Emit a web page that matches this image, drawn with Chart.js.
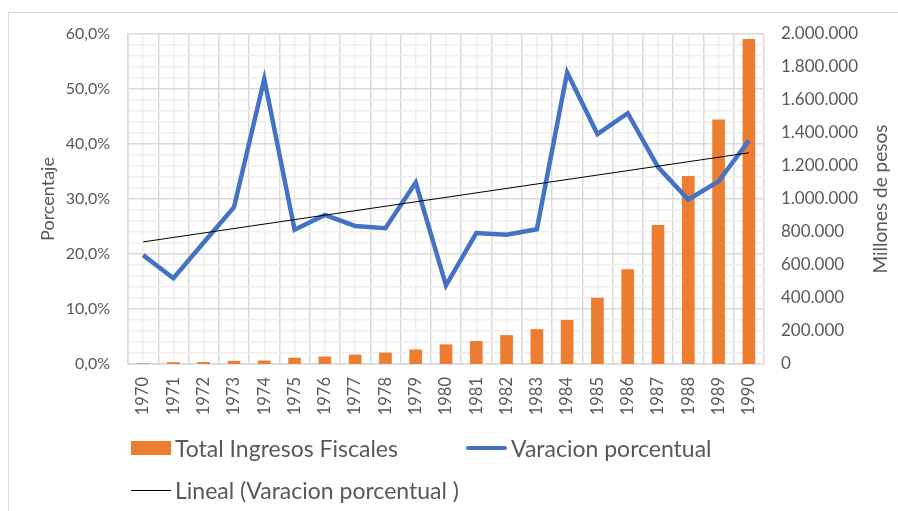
<!DOCTYPE html>
<html>
<head>
<meta charset="utf-8">
<script src="https://cdn.jsdelivr.net/npm/chart.js@4.4.1/dist/chart.umd.min.js"></script>
<style>
  body { margin: 0; background: #fff; font-family: Lato, sans-serif; }
  #wrap { position: relative; width: 898px; height: 511px; overflow: hidden; }
  #frame { position: absolute; left: 8px; top: 12px; width: 1000px; height: 1000px;
           border: 1px solid #d9d9d9; box-sizing: border-box; }
  #chart { position: absolute; left: 0; top: 0; }
  .leg { position: absolute; font-size: 23px; color: #595959; white-space: nowrap; line-height: 26px; }
  .sw { position: absolute; }
</style>
</head>
<body>
<div id="wrap">
  <div id="frame"></div>
  <canvas id="chart" width="898" height="511"></canvas>
  <div id="legend"></div>
</div>
<script>
const years = ["1970", "1971", "1972", "1973", "1974", "1975", "1976", "1977", "1978", "1979",
  "1980", "1981", "1982", "1983", "1984", "1985", "1986", "1987", "1988", "1989", "1990"];

// Total Ingresos Fiscales (millones de pesos), right axis
const ingresos = [1500, 9000, 10000, 17000, 19000, 36000, 43000, 55000, 67000, 86000,
  117000, 137000, 173000, 209000, 265000, 399000, 572000, 840000, 1137000, 1480000, 1967000];

// Varacion porcentual (%), left axis
const variacion = [19.8, 15.6, 22.1, 28.5, 51.8, 24.4, 27.1, 25.1, 24.7, 33.0,
  14.3, 23.8, 23.5, 24.5, 53.0, 41.8, 45.6, 35.8, 29.9, 33.2, 40.6];

// trend line endpoints (1970 and 1990)
const tendencia = [22.2, null, null, null, null, null, null, null, null, null,
  null, null, null, null, null, null, null, null, null, null, 38.4];

const leftTicks = [0, 10, 20, 30, 40, 50, 60];
const rightTicks = [0, 200000, 400000, 600000, 800000, 1000000, 1200000, 1400000, 1600000, 1800000, 2000000];

const names = ["Total Ingresos Fiscales", "Varacion porcentual", "Lineal (Varacion porcentual )"];
const leftTitle = "Porcentaje";
const rightTitle = "Millones de pesos";

const textColor = "#595959";
const orange = "#ED7D31";
const blue = "#4472C4";

function fmtPct(v) {
  return v.toFixed(1).replace(".", ",") + "%";
}
function fmtMiles(v) {
  return String(v).replace(/\B(?=(\d{3})+(?!\d))/g, ".");
}

// draws the two axis titles, both reading bottom to top
const axisTitles = {
  id: "axisTitles",
  afterDraw(chart) {
    const ctx = chart.ctx;
    const a = chart.chartArea;
    const midY = (a.top + a.bottom) / 2;
    ctx.save();
    ctx.fillStyle = textColor;
    ctx.textAlign = "center";
    ctx.textBaseline = "middle";
    [[48, leftTitle, 18], [881, rightTitle, 19]].forEach(function (t) {
      ctx.save();
      ctx.font = t[2] + "px Lato";
      ctx.translate(t[0], midY);
      ctx.rotate(-Math.PI / 2);
      ctx.fillText(t[1], 0, 0);
      ctx.restore();
    });
    ctx.restore();
  }
};

const ctx = document.getElementById("chart").getContext("2d");
const chart = new Chart(ctx, {
  type: "bar",
  data: {
    labels: years,
    datasets: [
      {
        type: "line",
        label: names[2],
        data: tendencia,
        yAxisID: "y",
        borderColor: "#000000",
        borderWidth: 1,
        pointRadius: 0,
        spanGaps: true,
        order: 0
      },
      {
        type: "line",
        label: names[1],
        data: variacion,
        yAxisID: "y",
        borderColor: blue,
        borderWidth: 4.5,
        pointRadius: 0,
        tension: 0,
        borderJoinStyle: "miter",
        order: 1
      },
      {
        label: names[0],
        data: ingresos,
        yAxisID: "y2",
        backgroundColor: orange,
        barThickness: 12,
        order: 2
      }
    ]
  },
  options: {
    responsive: false,
    animation: false,
    devicePixelRatio: 1,
    layout: { padding: { left: 0, right: 0, top: 34, bottom: 97 } },
    plugins: {
      legend: { display: false },
      tooltip: { enabled: false }
    },
    scales: {
      x: {
        position: "bottom",
        grid: { offset: true, color: "#d9d9d9", lineWidth: 1.5, drawTicks: false },
        border: { color: "#d9d9d9", width: 1.5 },
        ticks: { color: textColor, font: { family: "Lato", size: 16.5 }, minRotation: 90, maxRotation: 90, padding: 13, autoSkip: false },
        afterFit(s) { s.height = 50; }
      },
      x2: {
        type: "category",
        position: "top",
        offset: true,
        grid: { offset: false, color: "#efefef", lineWidth: 1.5, drawTicks: false, z: -1 },
        border: { display: false },
        ticks: { display: false },
        afterFit(s) { s.height = 0; }
      },
      y: {
        position: "left",
        min: 0,
        max: 60,
        ticks: {
          stepSize: 2,
          autoSkip: false,
          color: textColor,
          font: { family: "Lato", size: 16 },
          padding: 18,
          callback: function (v) { return leftTicks.includes(v) ? fmtPct(v) : ""; }
        },
        grid: {
          drawTicks: false,
          lineWidth: 1.5,
          color: function (c) { return leftTicks.includes(c.tick.value) ? "#d9d9d9" : "#efefef"; }
        },
        border: { color: "#d9d9d9", width: 1.5 },
        afterFit(s) { s.width = 128; }
      },
      y2: {
        position: "right",
        min: 0,
        max: 2000000,
        afterBuildTicks(s) { s.ticks = rightTicks.map(function (v) { return { value: v }; }); },
        ticks: {
          color: textColor,
          font: { family: "Lato", size: 17 },
          padding: 17,
          callback: function (v) { return fmtMiles(v); }
        },
        grid: { display: false, drawTicks: false },
        border: { display: false },
        afterFit(s) { s.width = 134; }
      }
    }
  },
  plugins: [axisTitles]
});

// legend, laid out like the original (two rows, left aligned)
const legend = document.getElementById("legend");
const items = [
  { name: names[0], sw: "left:131px;top:441px;width:40px;height:14px;background:" + orange, tx: 175, ty: 435 },
  { name: names[1], sw: "left:466px;top:446px;width:41px;height:4px;border-radius:2px;background:" + blue, tx: 511, ty: 435 },
  { name: names[2], sw: "left:131px;top:490px;width:40px;height:1px;background:#000", tx: 175, ty: 477 }
];
items.forEach(function (it) {
  const sw = document.createElement("div");
  sw.className = "sw";
  sw.style.cssText = sw.style.cssText + it.sw;
  legend.appendChild(sw);
  const t = document.createElement("div");
  t.className = "leg";
  t.style.left = it.tx + "px";
  t.style.top = it.ty + "px";
  t.textContent = it.name;
  legend.appendChild(t);
});
</script>
</body>
</html>
